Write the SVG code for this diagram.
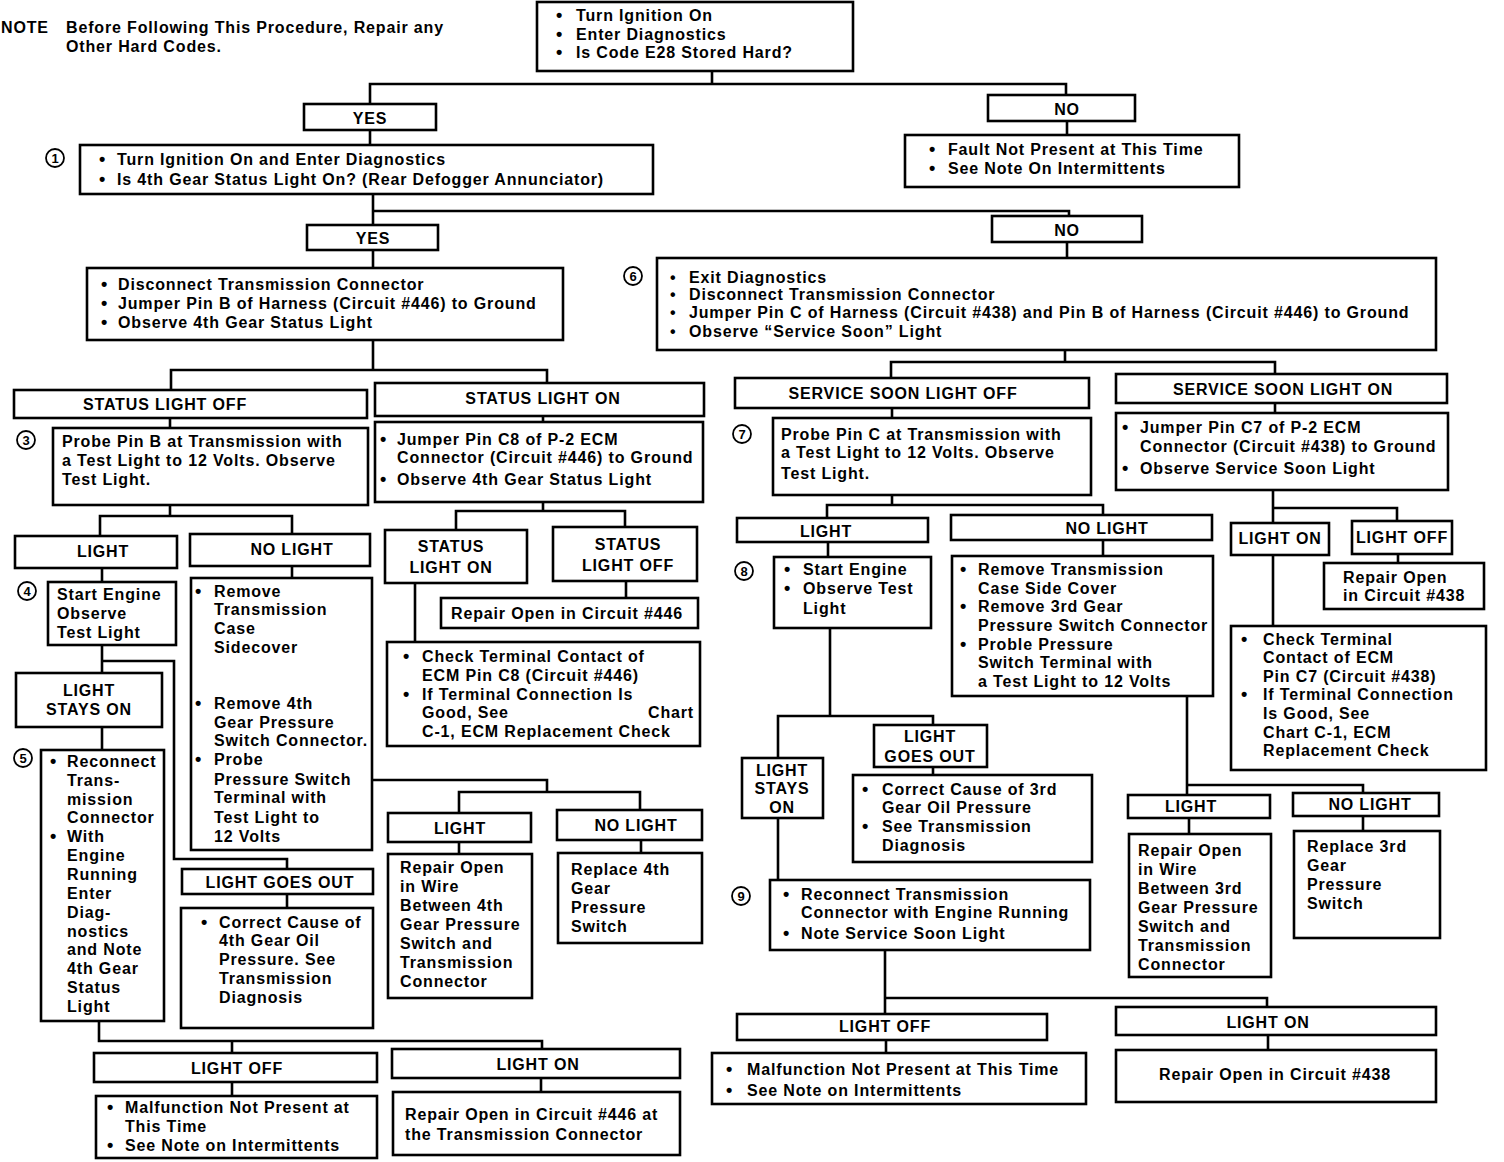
<svg xmlns="http://www.w3.org/2000/svg" width="1504" height="1162" viewBox="0 0 1504 1162">
<style>
.bg{fill:#fff}
.b{fill:#fff;stroke:#000;stroke-width:2.6}
.cn path{fill:none;stroke:#000;stroke-width:2.6}
text{font-family:"Liberation Sans",Arial,sans-serif;font-weight:bold;font-size:16px;letter-spacing:0.85px;fill:#000}
.m{text-anchor:middle}
.bu{font-size:18px;letter-spacing:0}
#step6 .bu{font-size:16px}
.num circle{fill:#fff;stroke:#000;stroke-width:1.8}
.num text{font-size:13px;letter-spacing:0;text-anchor:middle}
</style>
<rect class="bg" x="0" y="0" width="1504" height="1162"/>

<g id="note">
<text x="1" y="33">NOTE</text>
<text x="66" y="33">Before Following This Procedure, Repair any</text>
<text x="66" y="52">Other Hard Codes.</text>
</g>

<g class="cn" id="connectors">
<path d="M712 71V84M370 104V84H1066V95"/>
<path d="M370 130V145"/>
<path d="M1067 121V135"/>
<path d="M373 194V211M373 225V211H1069V216"/>
<path d="M373 250V268"/>
<path d="M1067 242V258"/>
<path d="M373 340V370M171 390V370H547V382"/>
<path d="M1065 350V362M891 378V362H1275V374"/>
<path d="M170 418V428"/>
<path d="M543 416V422"/>
<path d="M892 408V418"/>
<path d="M1275 402V413"/>
<path d="M170 505V516M100 536V516H292V534"/>
<path d="M102 568V582"/>
<path d="M292 566V578"/>
<path d="M102 645V673M102 661H174V859H287V869"/>
<path d="M102 727V750"/>
<path d="M372 780H547V792M459 813V792H640V810"/>
<path d="M459 842V854M641 840V853"/>
<path d="M287 894V908"/>
<path d="M99 1021V1041H542V1049M232 1041V1053"/>
<path d="M232 1082V1095M541 1078V1092"/>
<path d="M543 502V511M456 529V511H625V527"/>
<path d="M626 581V598M415 583V642"/>
<path d="M892 494V505M827 518V505H1103V515"/>
<path d="M828 542V557M1103 540V556"/>
<path d="M830 628V716M778 758V716H933V725"/>
<path d="M933 767V775M778 818V880"/>
<path d="M885 950V998M885 1014V998H1267V1007"/>
<path d="M886 1040V1053M1268 1035V1050"/>
<path d="M1273 490V508H1397V521M1273 523V508"/>
<path d="M1398 554V563M1273 555V625"/>
<path d="M1187 696V785H1363V793M1187 795V785"/>
<path d="M1189 818V834M1363 816V831"/>
</g>

<g class="num" id="step-numbers">
<g id="n1"><circle cx="55" cy="158" r="9"/><text x="55" y="163">1</text></g>
<g id="n3"><circle cx="26" cy="440" r="9"/><text x="26" y="445">3</text></g>
<g id="n4"><circle cx="27" cy="591" r="9"/><text x="27" y="596">4</text></g>
<g id="n5"><circle cx="23" cy="758" r="9"/><text x="23" y="763">5</text></g>
<g id="n6"><circle cx="633" cy="276" r="9"/><text x="633" y="281">6</text></g>
<g id="n7"><circle cx="742" cy="434" r="9"/><text x="742" y="439">7</text></g>
<g id="n8"><circle cx="744" cy="571" r="9"/><text x="744" y="576">8</text></g>
<g id="n9"><circle cx="741" cy="896" r="9"/><text x="741" y="901">9</text></g>
</g>

<g id="start">
<rect class="b" x="537" y="2" width="316" height="69"/>
<text y="21"><tspan class="bu" x="556">•</tspan><tspan x="576">Turn Ignition On</tspan></text>
<text y="40"><tspan class="bu" x="556">•</tspan><tspan x="576">Enter Diagnostics</tspan></text>
<text y="58"><tspan class="bu" x="556">•</tspan><tspan x="576">Is Code E28 Stored Hard?</tspan></text>
</g>

<g id="yes1"><rect class="b" x="304" y="104" width="132" height="26"/><text class="m" x="370" y="124">YES</text></g>
<g id="no1"><rect class="b" x="988" y="95" width="147" height="26"/><text class="m" x="1067" y="115">NO</text></g>

<g id="step1">
<rect class="b" x="80" y="145" width="573" height="49"/>
<text y="165"><tspan class="bu" x="99">•</tspan><tspan x="117">Turn Ignition On and Enter Diagnostics</tspan></text>
<text y="185"><tspan class="bu" x="99">•</tspan><tspan x="117">Is 4th Gear Status Light On? (Rear Defogger Annunciator)</tspan></text>
</g>

<g id="fault1">
<rect class="b" x="905" y="135" width="334" height="52"/>
<text y="155"><tspan class="bu" x="929">•</tspan><tspan x="948">Fault Not Present at This Time</tspan></text>
<text y="174"><tspan class="bu" x="929">•</tspan><tspan x="948">See Note On Intermittents</tspan></text>
</g>

<g id="yes2"><rect class="b" x="307" y="225" width="131" height="25"/><text class="m" x="373" y="244">YES</text></g>
<g id="no2"><rect class="b" x="992" y="216" width="150" height="26"/><text class="m" x="1067" y="236">NO</text></g>

<g id="step2">
<rect class="b" x="87" y="268" width="476" height="72"/>
<text y="290"><tspan class="bu" x="101">•</tspan><tspan x="118">Disconnect Transmission Connector</tspan></text>
<text y="309"><tspan class="bu" x="101">•</tspan><tspan x="118">Jumper Pin B of Harness (Circuit #446) to Ground</tspan></text>
<text y="328"><tspan class="bu" x="101">•</tspan><tspan x="118">Observe 4th Gear Status Light</tspan></text>
</g>

<g id="step6">
<rect class="b" x="657" y="258" width="779" height="92"/>
<text y="283"><tspan class="bu" x="670">•</tspan><tspan x="689">Exit Diagnostics</tspan></text>
<text y="300"><tspan class="bu" x="670">•</tspan><tspan x="689">Disconnect Transmission Connector</tspan></text>
<text y="318"><tspan class="bu" x="670">•</tspan><tspan x="689">Jumper Pin C of Harness (Circuit #438) and Pin B of Harness (Circuit #446) to Ground</tspan></text>
<text y="337"><tspan class="bu" x="670">•</tspan><tspan x="689">Observe “Service Soon” Light</tspan></text>
</g>

<g id="status-off"><rect class="b" x="14" y="390" width="353" height="28"/><text class="m" x="165" y="410">STATUS LIGHT OFF</text></g>
<g id="status-on"><rect class="b" x="375" y="383" width="329" height="33"/><text class="m" x="543" y="404">STATUS LIGHT ON</text></g>
<g id="ssl-off"><rect class="b" x="735" y="378" width="354" height="30"/><text class="m" x="903" y="399">SERVICE SOON LIGHT OFF</text></g>
<g id="ssl-on"><rect class="b" x="1116" y="374" width="331" height="29"/><text class="m" x="1283" y="395">SERVICE SOON LIGHT ON</text></g>

<g id="step3">
<rect class="b" x="53" y="428" width="315" height="77"/>
<text x="62" y="447">Probe Pin B at Transmission with</text>
<text x="62" y="466">a Test Light to 12 Volts. Observe</text>
<text x="62" y="485">Test Light.</text>
</g>

<g id="jumper-c8">
<rect class="b" x="375" y="422" width="328" height="80"/>
<text y="445"><tspan class="bu" x="380">•</tspan><tspan x="397">Jumper Pin C8 of P-2 ECM</tspan></text>
<text x="397" y="463">Connector (Circuit #446) to Ground</text>
<text y="485"><tspan class="bu" x="380">•</tspan><tspan x="397">Observe 4th Gear Status Light</tspan></text>
</g>

<g id="step7">
<rect class="b" x="773" y="418" width="318" height="77"/>
<text x="781" y="440">Probe Pin C at Transmission with</text>
<text x="781" y="458">a Test Light to 12 Volts. Observe</text>
<text x="781" y="479">Test Light.</text>
</g>

<g id="jumper-c7">
<rect class="b" x="1116" y="413" width="332" height="77"/>
<text y="433"><tspan class="bu" x="1122">•</tspan><tspan x="1140">Jumper Pin C7 of P-2 ECM</tspan></text>
<text x="1140" y="452">Connector (Circuit #438) to Ground</text>
<text y="474"><tspan class="bu" x="1122">•</tspan><tspan x="1140">Observe Service Soon Light</tspan></text>
</g>

<g id="light-a"><rect class="b" x="15" y="536" width="162" height="32"/><text class="m" x="103" y="557">LIGHT</text></g>
<g id="nolight-a"><rect class="b" x="190" y="534" width="180" height="32"/><text class="m" x="292" y="555">NO LIGHT</text></g>

<g id="step4">
<rect class="b" x="48" y="582" width="128" height="63"/>
<text x="57" y="600">Start Engine</text>
<text x="57" y="619">Observe</text>
<text x="57" y="638">Test Light</text>
</g>

<g id="remove-sidecover">
<rect class="b" x="191" y="578" width="181" height="272"/>
<text y="597"><tspan class="bu" x="195">•</tspan><tspan x="214">Remove</tspan></text>
<text x="214" y="615">Transmission</text>
<text x="214" y="634">Case</text>
<text x="214" y="653">Sidecover</text>
<text y="709"><tspan class="bu" x="195">•</tspan><tspan x="214">Remove 4th</tspan></text>
<text x="214" y="728">Gear Pressure</text>
<text x="214" y="746">Switch Connector.</text>
<text y="765"><tspan class="bu" x="195">•</tspan><tspan x="214">Probe</tspan></text>
<text x="214" y="785">Pressure Switch</text>
<text x="214" y="803">Terminal with</text>
<text x="214" y="823">Test Light to</text>
<text x="214" y="842">12 Volts</text>
</g>

<g id="stays-on-a">
<rect class="b" x="16" y="673" width="146" height="54"/>
<text class="m" x="89" y="696">LIGHT</text>
<text class="m" x="89" y="715">STAYS ON</text>
</g>

<g id="step5">
<rect class="b" x="41" y="750" width="123" height="271"/>
<text y="767"><tspan class="bu" x="50">•</tspan><tspan x="67">Reconnect</tspan></text>
<text x="67" y="786">Trans-</text>
<text x="67" y="805">mission</text>
<text x="67" y="823">Connector</text>
<text y="842"><tspan class="bu" x="50">•</tspan><tspan x="67">With</tspan></text>
<text x="67" y="861">Engine</text>
<text x="67" y="880">Running</text>
<text x="67" y="899">Enter</text>
<text x="67" y="918">Diag-</text>
<text x="67" y="937">nostics</text>
<text x="67" y="955">and Note</text>
<text x="67" y="974">4th Gear</text>
<text x="67" y="993">Status</text>
<text x="67" y="1012">Light</text>
</g>

<g id="goes-out-a"><rect class="b" x="182" y="869" width="191" height="25"/><text class="m" x="280" y="888">LIGHT GOES OUT</text></g>

<g id="correct-4th">
<rect class="b" x="181" y="908" width="192" height="120"/>
<text y="928"><tspan class="bu" x="201">•</tspan><tspan x="219">Correct Cause of</tspan></text>
<text x="219" y="946">4th Gear Oil</text>
<text x="219" y="965">Pressure. See</text>
<text x="219" y="984">Transmission</text>
<text x="219" y="1003">Diagnosis</text>
</g>

<g id="light-b"><rect class="b" x="388" y="813" width="143" height="29"/><text class="m" x="460" y="834">LIGHT</text></g>
<g id="nolight-b"><rect class="b" x="557" y="810" width="145" height="30"/><text class="m" x="636" y="831">NO LIGHT</text></g>

<g id="repair-wire-4th">
<rect class="b" x="388" y="854" width="144" height="144"/>
<text x="400" y="873">Repair Open</text>
<text x="400" y="892">in Wire</text>
<text x="400" y="911">Between 4th</text>
<text x="400" y="930">Gear Pressure</text>
<text x="400" y="949">Switch and</text>
<text x="400" y="968">Transmission</text>
<text x="400" y="987">Connector</text>
</g>

<g id="replace-4th">
<rect class="b" x="558" y="853" width="144" height="90"/>
<text x="571" y="875">Replace 4th</text>
<text x="571" y="894">Gear</text>
<text x="571" y="913">Pressure</text>
<text x="571" y="932">Switch</text>
</g>

<g id="light-off-a"><rect class="b" x="94" y="1053" width="283" height="29"/><text class="m" x="237" y="1074">LIGHT OFF</text></g>
<g id="light-on-a"><rect class="b" x="392" y="1049" width="288" height="29"/><text class="m" x="538" y="1070">LIGHT ON</text></g>

<g id="malfunction-a">
<rect class="b" x="96" y="1096" width="281" height="62"/>
<text y="1113"><tspan class="bu" x="107">•</tspan><tspan x="125">Malfunction Not Present at</tspan></text>
<text x="125" y="1132">This Time</text>
<text y="1151"><tspan class="bu" x="107">•</tspan><tspan x="125">See Note on Intermittents</tspan></text>
</g>

<g id="repair-446-conn">
<rect class="b" x="393" y="1092" width="287" height="63"/>
<text x="405" y="1120">Repair Open in Circuit #446 at</text>
<text x="405" y="1140">the Transmission Connector</text>
</g>

<g id="status-on-b">
<rect class="b" x="385" y="530" width="142" height="53"/>
<text class="m" x="451" y="552">STATUS</text>
<text class="m" x="451" y="573">LIGHT  ON</text>
</g>
<g id="status-off-b">
<rect class="b" x="553" y="527" width="144" height="54"/>
<text class="m" x="628" y="550">STATUS</text>
<text class="m" x="628" y="571">LIGHT OFF</text>
</g>

<g id="repair-446">
<rect class="b" x="441" y="598" width="257" height="30"/>
<text x="451" y="619">Repair Open in Circuit #446</text>
</g>

<g id="check-c8">
<rect class="b" x="387" y="642" width="313" height="104"/>
<text y="662"><tspan class="bu" x="403">•</tspan><tspan x="422">Check Terminal Contact of</tspan></text>
<text x="422" y="681">ECM Pin C8 (Circuit #446)</text>
<text y="700"><tspan class="bu" x="403">•</tspan><tspan x="422">If Terminal Connection Is</tspan></text>
<text y="718"><tspan x="422">Good, See</tspan><tspan x="648">Chart</tspan></text>
<text x="422" y="737">C-1, ECM Replacement Check</text>
</g>

<g id="light-c"><rect class="b" x="737" y="518" width="191" height="24"/><text class="m" x="826" y="537">LIGHT</text></g>
<g id="nolight-c"><rect class="b" x="951" y="515" width="261" height="25"/><text class="m" x="1107" y="534">NO LIGHT</text></g>

<g id="step8">
<rect class="b" x="774" y="557" width="157" height="71"/>
<text y="575"><tspan class="bu" x="784">•</tspan><tspan x="803">Start Engine</tspan></text>
<text y="594"><tspan class="bu" x="784">•</tspan><tspan x="803">Observe Test</tspan></text>
<text x="803" y="614">Light</text>
</g>

<g id="remove-3rd">
<rect class="b" x="952" y="556" width="261" height="140"/>
<text y="575"><tspan class="bu" x="960">•</tspan><tspan x="978">Remove Transmission</tspan></text>
<text x="978" y="594">Case Side Cover</text>
<text y="612"><tspan class="bu" x="960">•</tspan><tspan x="978">Remove 3rd Gear</tspan></text>
<text x="978" y="631">Pressure Switch Connector</text>
<text y="650"><tspan class="bu" x="960">•</tspan><tspan x="978">Proble Pressure</tspan></text>
<text x="978" y="668">Switch Terminal with</text>
<text x="978" y="687">a Test Light to 12 Volts</text>
</g>

<g id="stays-on-c">
<rect class="b" x="742" y="758" width="81" height="60"/>
<text class="m" x="782" y="776">LIGHT</text>
<text class="m" x="782" y="794">STAYS</text>
<text class="m" x="782" y="813">ON</text>
</g>

<g id="goes-out-c">
<rect class="b" x="874" y="725" width="113" height="42"/>
<text class="m" x="930" y="742">LIGHT</text>
<text class="m" x="930" y="762">GOES OUT</text>
</g>

<g id="correct-3rd">
<rect class="b" x="853" y="775" width="239" height="87"/>
<text y="795"><tspan class="bu" x="862">•</tspan><tspan x="882">Correct Cause of 3rd</tspan></text>
<text x="882" y="813">Gear Oil Pressure</text>
<text y="832"><tspan class="bu" x="862">•</tspan><tspan x="882">See Transmission</tspan></text>
<text x="882" y="851">Diagnosis</text>
</g>

<g id="step9">
<rect class="b" x="770" y="880" width="320" height="70"/>
<text y="900"><tspan class="bu" x="783">•</tspan><tspan x="801">Reconnect Transmission</tspan></text>
<text x="801" y="918">Connector with Engine Running</text>
<text y="939"><tspan class="bu" x="783">•</tspan><tspan x="801">Note Service Soon Light</tspan></text>
</g>

<g id="light-off-c"><rect class="b" x="737" y="1014" width="310" height="26"/><text class="m" x="885" y="1032">LIGHT OFF</text></g>
<g id="light-on-c"><rect class="b" x="1116" y="1007" width="320" height="28"/><text class="m" x="1268" y="1028">LIGHT ON</text></g>

<g id="malfunction-c">
<rect class="b" x="712" y="1053" width="374" height="51"/>
<text y="1075"><tspan class="bu" x="726">•</tspan><tspan x="747">Malfunction Not Present at This Time</tspan></text>
<text y="1096"><tspan class="bu" x="726">•</tspan><tspan x="747">See Note on Intermittents</tspan></text>
</g>

<g id="repair-438-b">
<rect class="b" x="1116" y="1050" width="320" height="52"/>
<text x="1159" y="1080">Repair Open in Circuit #438</text>
</g>

<g id="light-on-d"><rect class="b" x="1231" y="523" width="98" height="32"/><text class="m" x="1280" y="544">LIGHT ON</text></g>
<g id="light-off-d"><rect class="b" x="1352" y="521" width="100" height="33"/><text class="m" x="1402" y="543">LIGHT OFF</text></g>

<g id="repair-438">
<rect class="b" x="1324" y="563" width="160" height="46"/>
<text x="1343" y="583">Repair Open</text>
<text x="1343" y="601">in Circuit #438</text>
</g>

<g id="check-c7">
<rect class="b" x="1231" y="626" width="255" height="144"/>
<text y="645"><tspan class="bu" x="1241">•</tspan><tspan x="1263">Check Terminal</tspan></text>
<text x="1263" y="663">Contact of ECM</text>
<text x="1263" y="682">Pin C7 (Circuit #438)</text>
<text y="700"><tspan class="bu" x="1241">•</tspan><tspan x="1263">If Terminal Connection</tspan></text>
<text x="1263" y="719">Is Good, See</text>
<text x="1263" y="738">Chart C-1, ECM</text>
<text x="1263" y="756">Replacement Check</text>
</g>

<g id="light-e"><rect class="b" x="1128" y="795" width="142" height="23"/><text class="m" x="1191" y="812">LIGHT</text></g>
<g id="nolight-e"><rect class="b" x="1293" y="793" width="146" height="23"/><text class="m" x="1370" y="810">NO LIGHT</text></g>

<g id="repair-wire-3rd">
<rect class="b" x="1129" y="834" width="142" height="143"/>
<text x="1138" y="856">Repair Open</text>
<text x="1138" y="875">in Wire</text>
<text x="1138" y="894">Between 3rd</text>
<text x="1138" y="913">Gear Pressure</text>
<text x="1138" y="932">Switch and</text>
<text x="1138" y="951">Transmission</text>
<text x="1138" y="970">Connector</text>
</g>

<g id="replace-3rd">
<rect class="b" x="1294" y="831" width="146" height="107"/>
<text x="1307" y="852">Replace 3rd</text>
<text x="1307" y="871">Gear</text>
<text x="1307" y="890">Pressure</text>
<text x="1307" y="909">Switch</text>
</g>
</svg>
